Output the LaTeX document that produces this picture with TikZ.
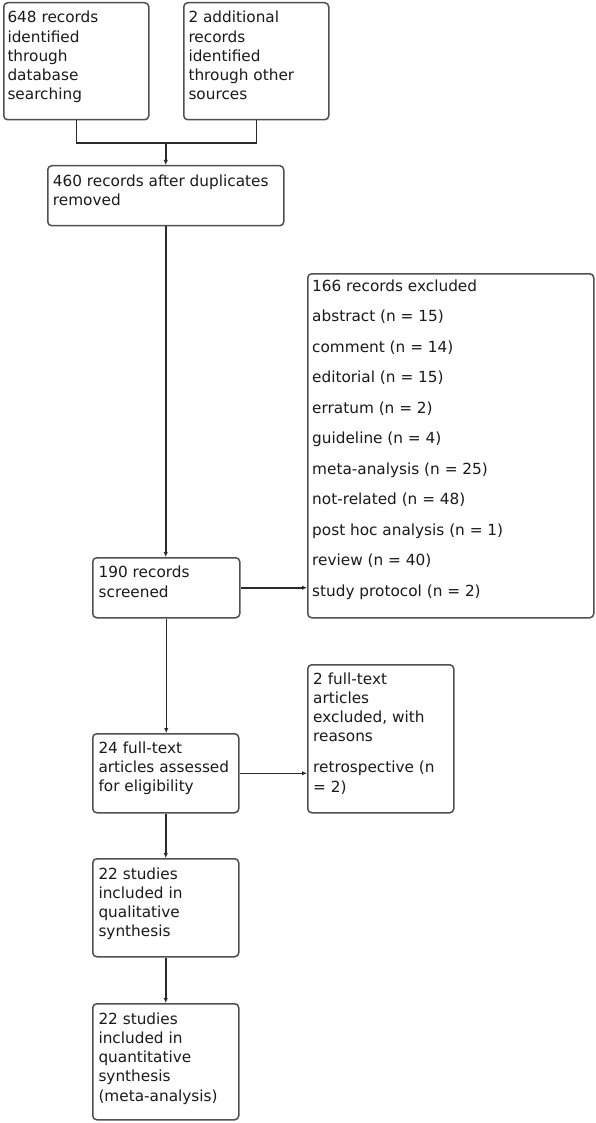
\documentclass[tikz,border=0pt]{standalone}
\usepackage{fontspec}
\setmainfont{DejaVu Sans}
\usetikzlibrary{arrows.meta}
\definecolor{boxline}{HTML}{505050}
\definecolor{conn}{HTML}{2A2A2A}
\definecolor{txt}{HTML}{1A1A1A}
\tikzset{
  box/.style={draw=boxline, line width=1.5pt, rounded corners=4pt, inner sep=0pt, anchor=north west, fill=white},
  txtnode/.style={anchor=north west, inner sep=0pt, align=left, text=txt, font=\fontsize{15.3}{19.2}\selectfont},
  conline/.style={draw=conn, line width=1.5pt},
  arr/.style={conline, -{Latex[length=5pt,width=4.5pt]}}
}
\begin{document}
\begin{tikzpicture}[x=1pt, y=-1pt]
\useasboundingbox[fill=white] (0,0) rectangle (596,1123);
% boxes
\node[box, minimum width=145pt, minimum height=117pt] (b1) at (3,2) {};
\node[box, minimum width=145pt, minimum height=117pt] (b2) at (183,2) {};
\node[box, minimum width=236pt, minimum height=60pt] (b3) at (47,165) {};
\node[box, minimum width=147pt, minimum height=60pt] (b4) at (92,557) {};
\node[box, minimum width=286pt, minimum height=344pt] (b5) at (307,273) {};
\node[box, minimum width=146pt, minimum height=79pt] (b6) at (92,733) {};
\node[box, minimum width=146pt, minimum height=148pt] (b7) at (307,664) {};
\node[box, minimum width=146pt, minimum height=98pt] (b8) at (92,858) {};
\node[box, minimum width=146pt, minimum height=116pt] (b9) at (92,1003) {};
% texts
\node[txtnode] (t1) at (7.3,11) {648 records\\identified\\through\\database\\searching};
\node[txtnode] (t2) at (188.3,11) {2 additional\\records\\identified\\through other\\sources};
\node[txtnode] (t3) at (52.7,174.5) {460 records after duplicates\\removed};
\node[txtnode] (t4) at (98.5,566) {190 records\\screened};
\node[txtnode] (t5) at (312,279.5) {166 records excluded\\[11.3pt]abstract (n = 15)\\[11.3pt]comment (n = 14)\\[11.3pt]editorial (n = 15)\\[11.3pt]erratum (n = 2)\\[11.3pt]guideline (n = 4)\\[11.3pt]meta-analysis (n = 25)\\[11.3pt]not-related (n = 48)\\[11.3pt]post hoc analysis (n = 1)\\[11.3pt]review (n = 40)\\[11.3pt]study protocol (n = 2)};
\node[txtnode] (t6) at (98.3,741.5) {24 full-text\\articles assessed\\for eligibility};
\node[txtnode] (t7) at (313,672.5) {2 full-text\\articles\\excluded, with\\reasons\\[11.8pt]retrospective (n\\= 2)};
\node[txtnode] (t8) at (98.3,867.5) {22 studies\\included in\\qualitative\\synthesis};
\node[txtnode] (t9) at (98.3,1012.5) {22 studies\\included in\\quantitative\\synthesis\\(meta-analysis)};
% connectors
\coordinate (m) at (b3.north |- 0,143);
\draw[conline] (b1.south) |- (m) -| (b2.south);
\draw[arr] (m) -- (b3.north);
\draw[arr] (b3.south) -- (b3.south |- b4.north);
\draw[arr] (b4.east) -- (b4.east -| b5.west);
\draw[arr] (b4.south) -- (b4.south |- b6.north);
\draw[arr] (b6.east) -- (b6.east -| b7.west);
\draw[arr] (b6.south) -- (b8.north);
\draw[arr] (b8.south) -- (b9.north);
\end{tikzpicture}
\end{document}
